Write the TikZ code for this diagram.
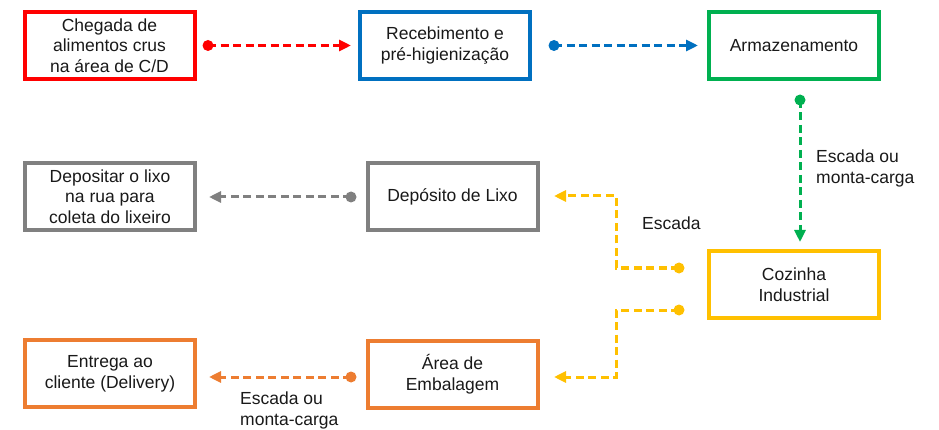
\documentclass[tikz,border=0pt]{standalone}
\usepackage{fontspec}
\setmainfont{Liberation Sans}
\usetikzlibrary{arrows.meta,calc}
\definecolor{cred}{HTML}{FF0000}
\definecolor{cblue}{HTML}{0070C0}
\definecolor{cgreen}{HTML}{00B050}
\definecolor{cgray}{HTML}{808080}
\definecolor{cyellow}{HTML}{FFC000}
\definecolor{corange}{HTML}{ED7D31}
\begin{document}
\begin{tikzpicture}[x=1pt,y=-1pt,
 box/.style={draw=#1, line width=4pt, minimum width=170pt, minimum height=67pt, align=center, inner sep=2pt, font=\fontsize{17.5}{20.7}\selectfont, text=black!90},
 flow/.style={draw=#1, line width=3pt, dash pattern=on 8pt off 4.5pt, -{Triangle[length=12pt,width=11pt]}},
 dotc/.style={fill=#1, circle, inner sep=0pt, minimum size=11pt},
 lbl/.style={font=\fontsize{17.5}{21}\selectfont, align=left, text=black!90, inner sep=0pt}]
\useasboundingbox (0,0) rectangle (939,430);
% boxes
\node[box=cred] (b1) at (109.5,45.5) {Chegada de\\alimentos crus\\na área de C/D};
\node[box=cblue] (b2) at (445,45.5) {Recebimento e\\pré-higienização};
\node[box=cgreen] (b3) at (794,46) {Armazenamento};
\node[box=cgray] (b4) at (110,196.5) {Depositar o lixo\\na rua para\\coleta do lixeiro};
\node[box=cgray] (b5) at (452.5,196.5) {Depósito de Lixo};
\node[box=cyellow] (b6) at (794,284.5) {Cozinha\\Industrial};
\node[box=corange] (b7) at (110,373.5) {Entrega ao\\cliente (Delivery)};
\node[box=corange] (b8) at (452.5,374) {Área de\\Embalagem};
% connector ends
\node[dotc=cred] (d1) at (208,45.5) {};
\coordinate (t1) at (351,45.5);
\node[dotc=cblue] (d2) at (554,45.5) {};
\coordinate (t2) at (698,45.5);
\node[dotc=cgreen] (d3) at (800,100) {};
\coordinate (t3) at (800,242);
\node[dotc=cgray] (d4) at (351,197) {};
\coordinate (t4) at (209,197);
\node[dotc=cyellow] (d5) at (679,268) {};
\coordinate (t5) at (554,196);
\node[dotc=cyellow] (d6) at (679,310) {};
\coordinate (t6) at (554,377);
\node[dotc=corange] (d7) at (351,377) {};
\coordinate (t7) at (209,377);
% connectors
\draw[flow=cred] (d1.center) -- (t1);
\draw[flow=cblue] (d2.center) -- (t2);
\draw[flow=cgreen] (d3.center) -- (t3);
\draw[flow=cgray] (d4.center) -- (t4);
\draw[flow=cyellow] (d5.center) -- (616,268) -- (616,196) -- (t5);
\draw[flow=cyellow] (d6.center) -- (616,310) -- (616,377) -- (t6);
\draw[flow=corange] (d7.center) -- (t7);
% labels
\node[lbl, anchor=west] (l1) at (816,168) {Escada ou\\monta-carga};
\node[lbl, anchor=base west] (l2) at (642,230) {Escada};
\node[lbl, anchor=west] (l3) at (240,410) {Escada ou\\monta-carga};
\end{tikzpicture}
\end{document}
